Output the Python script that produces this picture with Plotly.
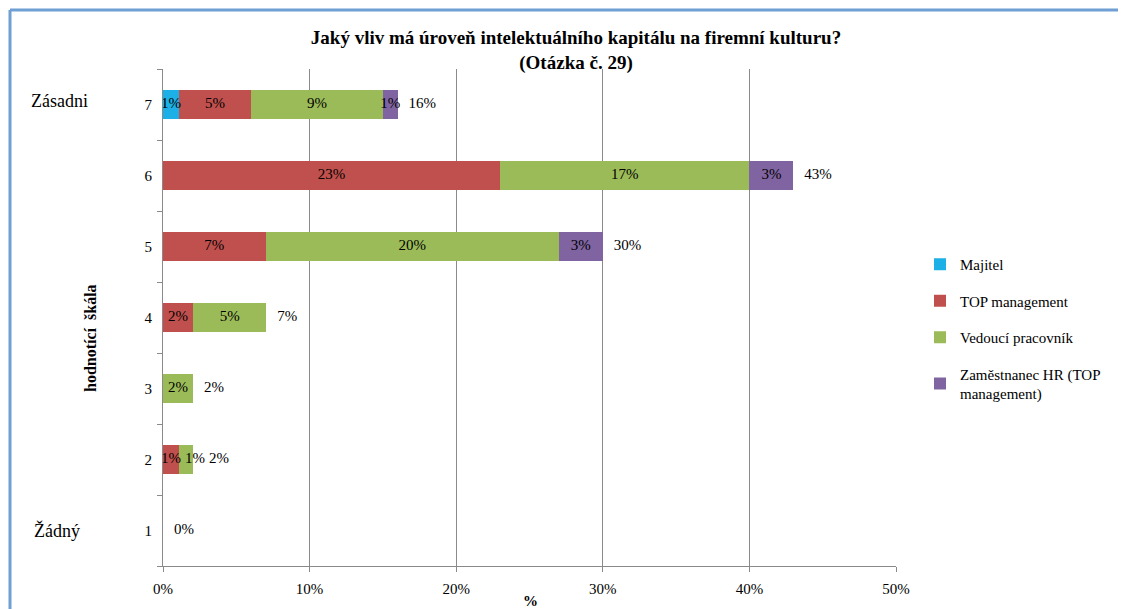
import plotly.graph_objects as go

rows = ['1', '2', '3', '4', '5', '6', '7']
series_names = ['Majitel', 'TOP management', 'Vedoucí pracovník', 'Zaměstnanec HR (TOP<br>management)']
majitel = [0, 0, 0, 0, 0, 0, 1.1]
top_mgmt = [0, 1.1, 0, 2.05, 7.0, 23.0, 4.9]
vedouci = [0, 0.95, 2.05, 5.0, 20.0, 17.0, 9.0]
hr = [0, 0, 0, 0, 3.0, 3.0, 1.0]
colors = ['#1cb0e6', '#c0504d', '#9bbb59', '#8064a2']
x_ticks = [0, 10, 20, 30, 40, 50]

FONT = 'Liberation Serif, Times New Roman, serif'
LBL_SIZE = 15
W, H = 1126, 609
OFF = 8  # page body margin offset (screen px -> figure px)
# plot area in screen px: x 163..896, y 69..566
L, R, T, B = 163 - OFF, W - (896 - OFF), 69 - OFF, H - (566 - OFF)
pw, ph = W - L - R, H - T - B
XMAX = 50.0
U = XMAX / pw  # data units per pixel

def px_x(x):
    return (x - OFF - L) / pw

def px_y(y):
    return (H - B - (y - OFF)) / ph

def text_w(s):
    # rough width of a label in px (serif digits ~0.5em, % ~0.83em)
    return sum(0.83 if c == '%' else 0.5 for c in s) * LBL_SIZE

fig = go.Figure()
all_series = [majitel, top_mgmt, vedouci, hr]
for i, (name, vals, col) in enumerate(zip(series_names, all_series, colors)):
    fig.add_trace(go.Bar(
        y=rows, x=vals, orientation='h', name=name, marker=dict(color=col, line=dict(width=0)),
        legendgroup=f'g{i}', hoverinfo='skip'))

# data labels: centered on segments, pushed right when they would collide (like the source)
lx, ly, lt = [], [], []
tx, tt = [], []
for r_i, r in enumerate(rows):
    cum = 0
    prev_right = None
    for vals in all_series:
        v = vals[r_i]
        if v > 0:
            s = f'{round(v)}%'
            w = text_w(s) * U
            left = cum + v / 2 - w / 2
            if prev_right is not None:
                left = max(left, prev_right + 4 * U)
            lx.append(left + w / 2)
            ly.append(r)
            lt.append(s)
            prev_right = left + w
        cum += v
    s = f'{round(cum)}%'
    w = text_w(s) * U
    left = cum + 11 * U
    if prev_right is not None:
        left = max(left, prev_right + 4 * U)
    tx.append(left + w / 2)
    tt.append(s)

fig.add_trace(go.Scatter(x=lx, y=ly, mode='text', text=lt, textposition='middle center',
                         textfont=dict(family=FONT, size=LBL_SIZE, color='#000000'),
                         showlegend=False, hoverinfo='skip', cliponaxis=False))
fig.add_trace(go.Scatter(x=tx, y=rows, mode='text', text=tt, textposition='middle center',
                         textfont=dict(family=FONT, size=LBL_SIZE, color='#000000'),
                         showlegend=False, hoverinfo='skip', cliponaxis=False))

fig.update_layout(
    width=W, height=H,
    margin=dict(l=L, r=R, t=T, b=B, autoexpand=False),
    barmode='stack', bargap=0.6,
    plot_bgcolor='white', paper_bgcolor='white',
    font=dict(family=FONT, size=15, color='#000000'),
    title=dict(text='<b>Jaký vliv má úroveň intelektuálního kapitálu na firemní kulturu?<br>(Otázka č. 29)</b>',
               x=(576 - OFF) / W, xanchor='center', xref='container', y=1 - (44 - OFF) / H, yanchor='top',
               yref='container', font=dict(family=FONT, size=19, color='#000000')),
    legend=dict(x=px_x(920), xanchor='left', y=px_y(248), yanchor='top', tracegroupgap=14,
                font=dict(family=FONT, size=15), traceorder='grouped', bgcolor='rgba(0,0,0,0)'),
    xaxis=dict(range=[0, XMAX], tickvals=x_ticks, ticktext=[f'{v}%' for v in x_ticks],
               showgrid=True, gridcolor='#8a8a8a', gridwidth=1, zeroline=False,
               showline=True, linecolor='#8a8a8a', linewidth=1,
               ticks='outside', ticklen=5, tickcolor='#8a8a8a', ticklabelstandoff=4,
               tickfont=dict(family=FONT, size=15)),
    yaxis=dict(type='category', categoryorder='array', categoryarray=rows,
               showgrid=False, zeroline=False, showline=True, linecolor='#8a8a8a', linewidth=1,
               ticks='outside', tickson='boundaries', ticklen=5, tickcolor='#8a8a8a',
               tickfont=dict(family=FONT, size=15), ticklabelstandoff=7),
)

# axis titles and scale end labels
fig.add_annotation(text='<b>hodnotící  škála</b>', textangle=-90, xref='paper', yref='paper',
                   x=px_x(90), y=px_y(338), xanchor='center', yanchor='middle', showarrow=False,
                   font=dict(family=FONT, size=16))
fig.add_annotation(text='<b>%</b>', xref='paper', yref='paper', x=px_x(530), y=px_y(601),
                   xanchor='center', yanchor='middle', showarrow=False, font=dict(family=FONT, size=15))
fig.add_annotation(text='Zásadni', xref='paper', yref='y', x=px_x(29), y=6, xanchor='left',
                   yanchor='middle', yshift=4, showarrow=False, font=dict(family=FONT, size=18))
fig.add_annotation(text='Žádný', xref='paper', yref='y', x=px_x(32), y=0, xanchor='left',
                   yanchor='middle', showarrow=False, font=dict(family=FONT, size=18))

# outer frame (top and left blue border)
fig.add_shape(type='line', xref='paper', yref='paper', x0=px_x(10), x1=px_x(1140), y0=px_y(10), y1=px_y(10),
              line=dict(color='#6f9fd4', width=3))
fig.add_shape(type='line', xref='paper', yref='paper', x0=px_x(10), x1=px_x(10), y0=px_y(10), y1=px_y(625),
              line=dict(color='#6f9fd4', width=3))

fig.write_html('out.html')
